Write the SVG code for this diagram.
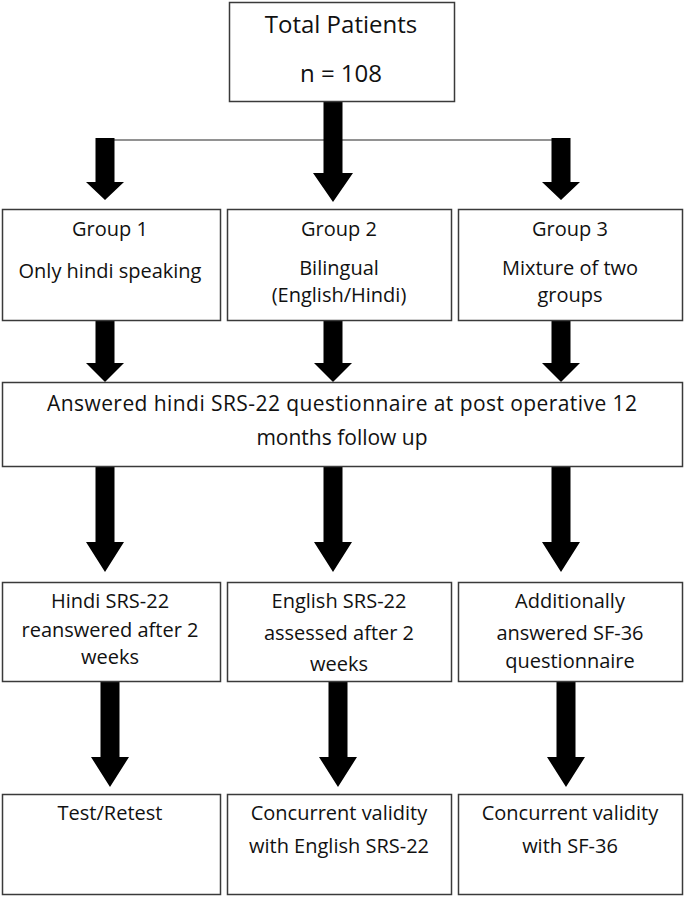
<svg xmlns="http://www.w3.org/2000/svg" width="685" height="897" viewBox="0 0 685 897">
<style>
.box{fill:#fff;stroke:#3a3a3a;stroke-width:1.5}
.t{font-family:"Open Sans","Liberation Sans",Arial,sans-serif;font-size:20px;fill:#111;text-anchor:middle}
.big{font-size:24px}
.wide{font-size:21px}
.arr{fill:#000}
.ln{stroke:#6e6e6e;stroke-width:1.5;fill:none}
</style>
<rect width="685" height="897" fill="#fff"/>
<g id="connectors">
<line class="ln" x1="105" y1="140" x2="561" y2="140"/>
<polygon class="arr" points="323.5,102 342.5,102 342.5,173 353,173 333,202 313,173 323.5,173"/>
<polygon class="arr" points="95.5,138 114.5,138 114.5,182 124,182 105,200 86,182 95.5,182"/>
<polygon class="arr" points="551.5,138 570.5,138 570.5,182 580,182 561,200 542,182 551.5,182"/>
<polygon class="arr" points="95.5,321 114.5,321 114.5,363 124,363 105,382 86,363 95.5,363"/>
<polygon class="arr" points="323.5,321 342.5,321 342.5,363 352,363 333,382 314,363 323.5,363"/>
<polygon class="arr" points="551.5,321 570.5,321 570.5,363 580,363 561,382 542,363 551.5,363"/>
<polygon class="arr" points="95.5,467 114.5,467 114.5,542 124,542 105,572 86,542 95.5,542"/>
<polygon class="arr" points="323.5,467 342.5,467 342.5,542 352,542 333,572 314,542 323.5,542"/>
<polygon class="arr" points="551.5,467 570.5,467 570.5,542 580,542 561,572 542,542 551.5,542"/>
<polygon class="arr" points="100.5,682 119.5,682 119.5,757 129,757 110,787 91,757 100.5,757"/>
<polygon class="arr" points="328.5,682 347.5,682 347.5,757 357,757 338,787 319,757 328.5,757"/>
<polygon class="arr" points="556.5,682 575.5,682 575.5,757 585,757 566,787 547,757 556.5,757"/>
</g>
<g id="total">
<rect class="box" x="229.5" y="2.5" width="225" height="99"/>
<text class="t big" x="341" y="33">Total Patients</text>
<text class="t big" x="341" y="82">n = 108</text>
</g>
<g id="group1">
<rect class="box" x="2.5" y="209.5" width="218" height="111"/>
<text class="t" x="110" y="236">Group 1</text>
<text class="t" x="110" y="278">Only hindi speaking</text>
</g>
<g id="group2">
<rect class="box" x="227.5" y="209.5" width="224" height="111"/>
<text class="t" x="339" y="236">Group 2</text>
<text class="t" x="339" y="275">Bilingual</text>
<text class="t" x="339" y="302">(English/Hindi)</text>
</g>
<g id="group3">
<rect class="box" x="458.5" y="209.5" width="224" height="111"/>
<text class="t" x="570" y="236">Group 3</text>
<text class="t" x="570" y="275">Mixture of two</text>
<text class="t" x="570" y="302">groups</text>
</g>
<g id="answered">
<rect class="box" x="2.5" y="382.5" width="680" height="84"/>
<text class="t wide" x="342" y="411" textLength="590" lengthAdjust="spacing">Answered hindi SRS-22 questionnaire at post operative 12</text>
<text class="t wide" x="342" y="445">months follow up</text>
</g>
<g id="hindi">
<rect class="box" x="2.5" y="582.5" width="218" height="99"/>
<text class="t" x="110" y="608">Hindi SRS-22</text>
<text class="t" x="110" y="637">reanswered after 2</text>
<text class="t" x="110" y="664">weeks</text>
</g>
<g id="english">
<rect class="box" x="227.5" y="582.5" width="224" height="99"/>
<text class="t" x="339" y="608">English SRS-22</text>
<text class="t" x="339" y="640">assessed after 2</text>
<text class="t" x="339" y="671">weeks</text>
</g>
<g id="sf36">
<rect class="box" x="458.5" y="582.5" width="224" height="99"/>
<text class="t" x="570" y="608">Additionally</text>
<text class="t" x="570" y="640">answered SF-36</text>
<text class="t" x="570" y="668">questionnaire</text>
</g>
<g id="retest">
<rect class="box" x="2.5" y="794.5" width="218" height="100"/>
<text class="t" x="110" y="820">Test/Retest</text>
</g>
<g id="validity-english">
<rect class="box" x="227.5" y="794.5" width="224" height="100"/>
<text class="t" x="339" y="820">Concurrent validity</text>
<text class="t" x="339" y="853">with English SRS-22</text>
</g>
<g id="validity-sf36">
<rect class="box" x="458.5" y="794.5" width="224" height="100"/>
<text class="t" x="570" y="820">Concurrent validity</text>
<text class="t" x="570" y="853">with SF-36</text>
</g>
</svg>
